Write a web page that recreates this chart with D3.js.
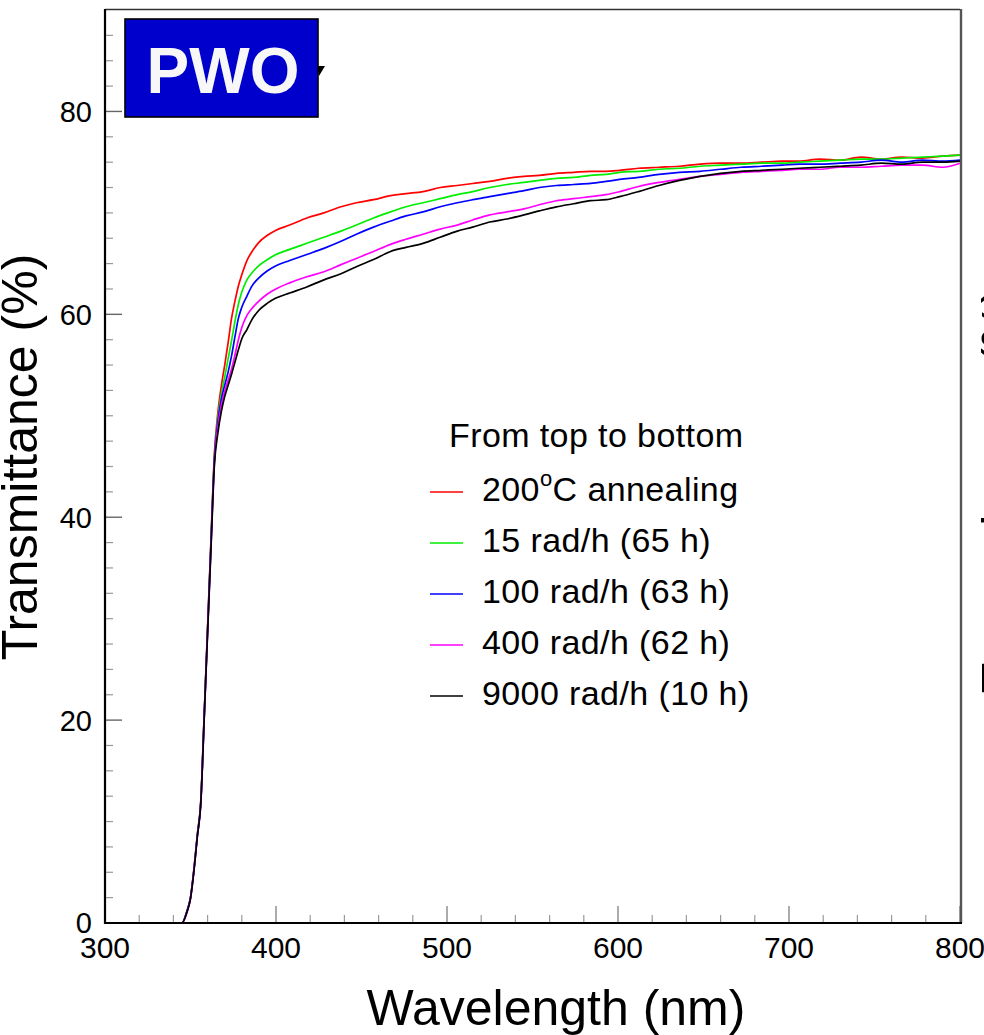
<!doctype html>
<html lang="en">
<head>
  <meta charset="utf-8">
  <script src="https://cdn.jsdelivr.net/npm/d3@7"></script>
</head>

<style>
    body {
        margin: 0;
        background-color: white;
    }

    svg {
        display: block;
        overflow: hidden;
        font-family: "Liberation Sans", Arial, Helvetica, sans-serif;
    }
</style>

<body>
</body>

<script>

    // wavelength grid (nm) shared by all curves
    let wavelengths = [300, 340, 345, 348, 350, 352, 354, 356, 358, 360, 362,
        364, 366, 368, 370, 372, 374, 376, 378, 380, 383, 386, 390, 395, 400,
        408, 418, 428, 438, 447, 457, 467, 476, 486, 496, 506, 515, 525, 535,
        545, 554, 564, 574, 584, 593, 601, 612, 624, 636, 648, 660, 672, 684,
        696, 706, 718, 730, 742, 754, 766, 778, 790, 800]

    // transmittance (%)
    let annealed = [0, 0, 0, 1.2, 2.5, 5.3, 8.7, 12.0, 20.5, 29.2, 37.9,
        46.3, 50.3, 52.9, 55.0, 57.2, 59.6, 61.3, 62.8, 63.9, 65.3, 66.2, 67.1, 67.8, 68.3,
        68.8, 69.5, 70.0, 70.6, 71.0, 71.3, 71.7, 71.9, 72.1, 72.5, 72.7, 72.9, 73.1, 73.4,
        73.6, 73.7, 73.9, 74.0, 74.1, 74.1, 74.2, 74.4, 74.5, 74.6, 74.8, 74.9, 74.9, 75.0,
        75.1, 75.1, 75.3, 75.2, 75.5, 75.3, 75.5, 75.4, 75.6, 75.7]

    let rad15 = [0, 0, 0, 1.2, 2.5, 5.3, 8.7, 11.9, 20.4, 29.0, 37.7,
        46.0, 49.8, 52.1, 53.8, 55.6, 57.4, 59.3, 61.0, 62.2, 63.4, 64.1, 64.8, 65.4, 65.9,
        66.4, 67.0, 67.6, 68.2, 68.8, 69.5, 70.1, 70.6, 71.0, 71.4, 71.8, 72.1, 72.5, 72.8,
        73.0, 73.2, 73.4, 73.5, 73.7, 73.8, 74.0, 74.1, 74.3, 74.4, 74.6, 74.7, 74.8, 74.9,
        74.9, 75.0, 75.1, 75.2, 75.3, 75.3, 75.4, 75.5, 75.6, 75.7]

    let rad100 = [0, 0, 0, 1.2, 2.5, 5.2, 8.6, 11.8, 20.3, 28.9, 37.5,
        45.8, 49.4, 51.6, 53.0, 54.3, 55.9, 57.8, 59.6, 60.7, 61.8, 62.8, 63.6, 64.3, 64.8,
        65.3, 65.9, 66.5, 67.2, 67.9, 68.6, 69.2, 69.7, 70.1, 70.6, 71.0, 71.3, 71.6, 71.9,
        72.2, 72.5, 72.7, 72.8, 72.9, 73.1, 73.3, 73.5, 73.8, 74.0, 74.1, 74.3, 74.5, 74.6,
        74.7, 74.8, 74.8, 74.9, 75.0, 75.2, 75.0, 75.2, 75.1, 75.2]

    let rad400 = [0, 0, 0, 1.1, 2.4, 5.2, 8.6, 11.8, 20.2, 28.8, 37.3,
        45.5, 48.9, 51.0, 52.4, 53.5, 54.6, 56.0, 57.5, 58.7, 59.9, 60.6, 61.3, 62.0, 62.5,
        63.1, 63.7, 64.2, 64.9, 65.5, 66.2, 66.9, 67.4, 67.9, 68.4, 68.8, 69.3, 69.8, 70.1,
        70.4, 70.8, 71.2, 71.4, 71.6, 71.8, 72.1, 72.6, 73.0, 73.3, 73.6, 73.8, 74.0, 74.1,
        74.2, 74.3, 74.3, 74.5, 74.5, 74.6, 74.7, 74.7, 74.5, 74.9]

    let rad9000 = [0, 0, 0, 1.1, 2.4, 5.1, 8.5, 11.7, 20.1, 28.6, 37.0,
        45.2, 48.3, 50.4, 51.9, 53.0, 54.1, 55.3, 56.5, 57.6, 58.5, 59.5, 60.4, 61.1, 61.6,
        62.1, 62.7, 63.4, 64.0, 64.7, 65.4, 66.2, 66.6, 67.0, 67.6, 68.2, 68.6, 69.1, 69.4,
        69.8, 70.2, 70.6, 70.9, 71.2, 71.3, 71.6, 72.1, 72.7, 73.2, 73.6, 73.9, 74.1, 74.2,
        74.3, 74.4, 74.5, 74.6, 74.7, 74.9, 74.8, 75.0, 75.0, 75.1]

    let seriesNames = ['200', '15 rad/h (65 h)', '100 rad/h (63 h)', '400 rad/h (62 h)', '9000 rad/h (10 h)']
    let seriesColors = ['#ff0000', '#00ee00', '#0000ff', '#ff00ff', '#000000']
    let seriesValues = [annealed, rad15, rad100, rad400, rad9000]

    let xTicks = [300, 400, 500, 600, 700, 800]
    let yTicks = [0, 20, 40, 60, 80]

    let width = 984, height = 1035

    let svg = d3.select('body')
        .append('svg')
        .attr('width', width)
        .attr('height', height)

    let x = d3.scaleLinear().domain([300, 800]).range([105, 960])
    let y = d3.scaleLinear().domain([0, 90]).range([923, 10])

    // minor ticks
    svg.append('g')
        .selectAll('line')
        .data(d3.range(300, 801, 20).filter(v => v % 100 != 0))
        .join('line')
        .attr('x1', d => x(d)).attr('x2', d => x(d))
        .attr('y1', y(0)).attr('y2', y(0) - 8)
        .attr('stroke', '#999').attr('stroke-width', 1.2)

    svg.append('g')
        .selectAll('line')
        .data(d3.range(0, 90, 2.5).filter(v => v % 20 != 0))
        .join('line')
        .attr('x1', x(300)).attr('x2', x(300) + 8)
        .attr('y1', d => y(d)).attr('y2', d => y(d))
        .attr('stroke', '#999').attr('stroke-width', 1.2)

    // major ticks
    svg.append('g')
        .selectAll('line')
        .data(xTicks)
        .join('line')
        .attr('x1', d => x(d)).attr('x2', d => x(d))
        .attr('y1', y(0)).attr('y2', y(0) - 17)
        .attr('stroke', '#888').attr('stroke-width', 1.4)

    svg.append('g')
        .selectAll('line')
        .data(yTicks)
        .join('line')
        .attr('x1', x(300)).attr('x2', x(300) + 17)
        .attr('y1', d => y(d)).attr('y2', d => y(d))
        .attr('stroke', '#666').attr('stroke-width', 1.4)

    // curves
    let line = d3.line()
        .x((d, i) => x(wavelengths[i]))
        .y(d => y(d))
        .curve(d3.curveMonotoneX)

    seriesValues.forEach((vals, k) => {
        svg.append('path')
            .datum(vals)
            .attr('d', line)
            .attr('fill', 'none')
            .attr('stroke', seriesColors[k])
            .attr('stroke-width', 1.7)
            .attr('stroke-linejoin', 'round')
    })

    // frame
    svg.append('line')
        .attr('x1', x(300)).attr('x2', x(800)).attr('y1', 9.5).attr('y2', 9.5)
        .attr('stroke', '#333').attr('stroke-width', 1.6)
    svg.append('line')
        .attr('x1', 961).attr('x2', 961).attr('y1', 9).attr('y2', y(0))
        .attr('stroke', '#555').attr('stroke-width', 2.4)
    svg.append('line')
        .attr('x1', x(300)).attr('x2', x(300)).attr('y1', 9).attr('y2', y(0) + 1)
        .attr('stroke', '#000').attr('stroke-width', 2.2)
    svg.append('line')
        .attr('x1', x(300) - 1).attr('x2', 962).attr('y1', y(0)).attr('y2', y(0))
        .attr('stroke', '#000').attr('stroke-width', 2.2)

    // tick labels
    svg.append('g')
        .selectAll('text')
        .data(xTicks)
        .join('text')
        .attr('x', d => x(d))
        .attr('y', 958)
        .attr('text-anchor', 'middle')
        .attr('font-size', 30)
        .text(d => d)

    svg.append('g')
        .selectAll('text')
        .data(yTicks)
        .join('text')
        .attr('x', 92)
        .attr('y', d => y(d))
        .attr('dy', '0.36em')
        .attr('text-anchor', 'end')
        .attr('font-size', 29)
        .text(d => d)

    // axis titles
    svg.append('text')
        .attr('x', 556)
        .attr('y', 1025)
        .attr('text-anchor', 'middle')
        .attr('font-size', 50)
        .text('Wavelength (nm)')

    svg.append('text')
        .attr('transform', 'translate(37,457) rotate(-90)')
        .attr('text-anchor', 'middle')
        .attr('font-size', 50)
        .text('Transmittance (%)')

    // edge of the neighbouring panel
    svg.append('text')
        .attr('transform', 'translate(1017,490) rotate(-90)')
        .attr('text-anchor', 'middle')
        .attr('font-size', 50)
        .text('Transmittance (%)')

    // legend
    let legend = svg.append('g')

    legend.append('text')
        .attr('x', 449)
        .attr('y', 447)
        .attr('font-size', 34)
        .attr('letter-spacing', 0.4)
        .text('From top to bottom')

    let rows = legend.selectAll('g.row')
        .data(seriesNames)
        .join('g')
        .attr('class', 'row')
        .attr('transform', (d, i) => 'translate(0,' + (501 + i * 51) + ')')

    rows.append('line')
        .attr('x1', 430).attr('x2', 463)
        .attr('y1', -9).attr('y2', -9)
        .attr('stroke', (d, i) => seriesColors[i])
        .attr('stroke-width', 1.4)

    rows.each(function (d, i) {
        let t = d3.select(this).append('text')
            .attr('x', 482)
            .attr('font-size', 34)
            .attr('letter-spacing', 0.4)
        if (i == 0) {
            t.append('tspan').text('200')
            t.append('tspan').attr('font-size', 22).attr('dy', -15).text('o')
            t.append('tspan').attr('dy', 15).text('C annealing')
        } else {
            t.text(d)
        }
    })

    // PWO tag
    svg.append('path')
        .attr('d', 'M317,66 L325,66 L319,76 Z')
        .attr('fill', '#000')

    svg.append('rect')
        .attr('x', 125).attr('y', 19)
        .attr('width', 193).attr('height', 98)
        .attr('fill', '#0000cc')
        .attr('stroke', '#000')
        .attr('stroke-width', 1.6)

    svg.append('text')
        .attr('x', 223)
        .attr('y', 93)
        .attr('text-anchor', 'middle')
        .attr('font-size', 64)
        .attr('font-weight', 'bold')
        .attr('fill', '#f7f7f7')
        .text('PWO')

</script>

</html>
